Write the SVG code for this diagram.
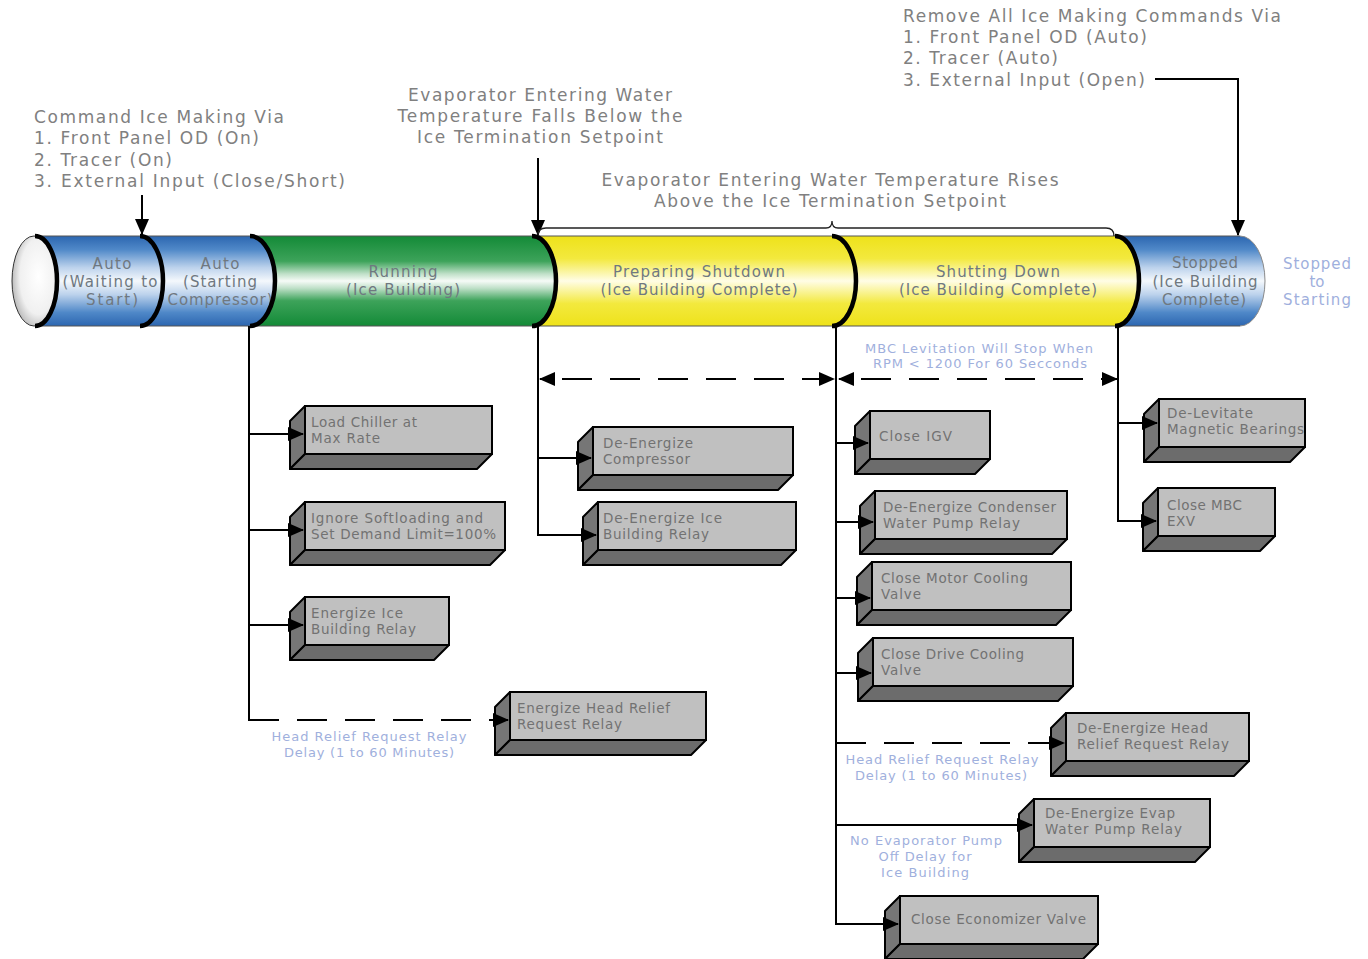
<svg xmlns="http://www.w3.org/2000/svg" width="1368" height="959" viewBox="0 0 1368 959">
<style>
text{font-family:"DejaVu Sans","Liberation Sans",sans-serif}
.t17{font-size:17px;fill:#808080}
.mid{text-anchor:middle}
.cyl{font-size:15px;fill:#6f7880;text-anchor:middle}
.bx{font-size:13.5px;fill:#727272}
.note{font-size:13px;fill:#9fb0dd;text-anchor:middle}
.ln{stroke:#000;stroke-width:2;fill:none}
.arr{marker-end:url(#ah)}
.dbl{marker-start:url(#ah);marker-end:url(#ah)}
.dash{stroke-dasharray:30 18}
.lf{fill:#767676;stroke:#000;stroke-width:2;stroke-linejoin:round}
.bt{fill:#6c6c6c;stroke:#000;stroke-width:2;stroke-linejoin:round}
.fr{fill:#c0c0c0;stroke:#000;stroke-width:2}
.seam{fill:none;stroke:#000;stroke-width:4.5}
</style>
<defs>
<marker id="ah" markerWidth="16" markerHeight="14" refX="15" refY="7" orient="auto-start-reverse" markerUnits="userSpaceOnUse">
<path d="M0,0 L16,7 L0,14 z" fill="#000"/>
</marker>
<linearGradient id="gBlue" x1="0" y1="0" x2="0" y2="1">
<stop offset="0" stop-color="#2c66b0"/><stop offset="0.15" stop-color="#4f88c8"/><stop offset="0.35" stop-color="#bcd2ec"/><stop offset="0.5" stop-color="#f4f8fc"/><stop offset="0.65" stop-color="#bcd2ec"/><stop offset="0.85" stop-color="#4f88c8"/><stop offset="1" stop-color="#2c66b0"/>
</linearGradient>
<linearGradient id="gGreen" x1="0" y1="0" x2="0" y2="1">
<stop offset="0" stop-color="#138a37"/><stop offset="0.28" stop-color="#3da35a"/><stop offset="0.42" stop-color="#bfe0c8"/><stop offset="0.5" stop-color="#f6fbf7"/><stop offset="0.58" stop-color="#bfe0c8"/><stop offset="0.72" stop-color="#3da35a"/><stop offset="1" stop-color="#138a37"/>
</linearGradient>
<linearGradient id="gYellow" x1="0" y1="0" x2="0" y2="1">
<stop offset="0" stop-color="#eee21a"/><stop offset="0.25" stop-color="#f3e93e"/><stop offset="0.5" stop-color="#fffde6"/><stop offset="0.75" stop-color="#f3e93e"/><stop offset="1" stop-color="#eee21a"/>
</linearGradient>
<radialGradient id="gCap" cx="0.6" cy="0.45" r="0.6">
<stop offset="0" stop-color="#ffffff"/><stop offset="0.7" stop-color="#f0f0f0"/><stop offset="1" stop-color="#bdbdbd"/>
</radialGradient>
</defs>
<rect width="1368" height="959" fill="#fff"/>

<!-- top labels -->
<g id="label-command">
<text class="t17" x="34" y="123" textLength="250">Command Ice Making Via</text>
<text class="t17" x="34" y="144" textLength="225">1. Front Panel OD (On)</text>
<text class="t17" x="34" y="166" textLength="138">2. Tracer (On)</text>
<text class="t17" x="34" y="187" textLength="311">3. External Input (Close/Short)</text>
</g>
<g id="label-falls">
<text class="t17 mid" x="540" y="101" textLength="264">Evaporator Entering Water</text>
<text class="t17 mid" x="540" y="122" textLength="285">Temperature Falls Below the</text>
<text class="t17 mid" x="540" y="143" textLength="246">Ice Termination Setpoint</text>
</g>
<g id="label-rises">
<text class="t17 mid" x="830" y="186" textLength="457">Evaporator Entering Water Temperature Rises</text>
<text class="t17 mid" x="830" y="207" textLength="352">Above the Ice Termination Setpoint</text>
</g>
<g id="label-remove">
<text class="t17" x="903" y="22" textLength="378">Remove All Ice Making Commands Via</text>
<text class="t17" x="903" y="43" textLength="244">1. Front Panel OD (Auto)</text>
<text class="t17" x="903" y="64" textLength="155">2. Tracer (Auto)</text>
<text class="t17" x="903" y="86" textLength="242">3. External Input (Open)</text>
</g>

<!-- cylinder -->
<g id="stopped">
<path d="M1115,236 L1240,236 A25,45 0 0 1 1240,326 L1115,326 Z" fill="url(#gBlue)"/>
<path d="M1240,236 A25,45 0 0 1 1240,326" fill="none" stroke="#8a8a8a" stroke-width="1"/>
<text class="cyl" x="1205" y="268" textLength="66">Stopped</text>
<text class="cyl" x="1205" y="287" textLength="105">(Ice Building</text>
<text class="cyl" x="1204" y="305" textLength="84">Complete)</text>
</g>
<g id="shutting-down">
<path d="M832,236 L1115,236 A24,45 0 0 1 1115,326 L832,326 Z" fill="url(#gYellow)"/>
<text class="cyl" x="998" y="277" textLength="124">Shutting Down</text>
<text class="cyl" x="998" y="295" textLength="198">(Ice Building Complete)</text>
</g>
<g id="preparing-shutdown">
<path d="M532,236 L832,236 A24,45 0 0 1 832,326 L532,326 Z" fill="url(#gYellow)"/>
<text class="cyl" x="699" y="277" textLength="172">Preparing Shutdown</text>
<text class="cyl" x="699" y="295" textLength="197">(Ice Building Complete)</text>
</g>
<g id="running">
<path d="M250,236 L532,236 A24,45 0 0 1 532,326 L250,326 Z" fill="url(#gGreen)"/>
<text class="cyl" x="403" y="277" textLength="69">Running</text>
<text class="cyl" x="403" y="295" textLength="114">(Ice Building)</text>
</g>
<g id="auto-starting">
<path d="M140,236 L250,236 A25,45 0 0 1 250,326 L140,326 Z" fill="url(#gBlue)"/>
<text class="cyl" x="220" y="269" textLength="39">Auto</text>
<text class="cyl" x="220" y="287" textLength="74">(Starting</text>
<text class="cyl" x="220" y="305" textLength="105">Compressor)</text>
</g>
<g id="auto-waiting">
<path d="M35,236 L140,236 A23,45 0 0 1 140,326 L35,326 Z" fill="url(#gBlue)"/>
<text class="cyl" x="112" y="269" textLength="39">Auto</text>
<text class="cyl" x="110" y="287" textLength="95">(Waiting to</text>
<text class="cyl" x="112" y="305" textLength="52">Start)</text>
</g>
<g id="cylinder-edges">
<line x1="35" y1="236" x2="1240" y2="236" stroke="#555" stroke-width="1"/>
<line x1="35" y1="326" x2="1240" y2="326" stroke="#555" stroke-width="1"/>
<ellipse cx="34" cy="281" rx="22" ry="45" fill="url(#gCap)" stroke="#333" stroke-width="1"/>
<path class="seam" d="M35,236 A22,45 0 0 1 35,326"/>
<path class="seam" d="M140,236 A23,45 0 0 1 140,326"/>
<path class="seam" d="M250,236 A25,45 0 0 1 250,326"/>
<path class="seam" d="M532,236 A24,45 0 0 1 532,326"/>
<path class="seam" d="M832,236 A24,45 0 0 1 832,326"/>
<path class="seam" d="M1115,236 A24,45 0 0 1 1115,326"/>
</g>
<g id="label-stopped-to-starting">
<text class="note" style="font-size:15px" x="1317" y="269" textLength="68">Stopped</text>
<text class="note" style="font-size:15px" x="1317" y="287">to</text>
<text class="note" style="font-size:15px" x="1317" y="305" textLength="68">Starting</text>
</g>

<!-- notes -->
<g id="note-mbc">
<text class="note" x="979" y="353" textLength="228">MBC Levitation Will Stop When</text>
<text class="note" x="980" y="368" textLength="214">RPM &lt; 1200 For 60 Secconds</text>
</g>
<g id="note-head-relief-1">
<text class="note" x="369" y="741" textLength="195">Head Relief Request Relay</text>
<text class="note" x="369" y="757" textLength="170">Delay (1 to 60 Minutes)</text>
</g>
<g id="note-head-relief-2">
<text class="note" x="942" y="764" textLength="193">Head Relief Request Relay</text>
<text class="note" x="941" y="780" textLength="172">Delay (1 to 60 Minutes)</text>
</g>
<g id="note-evap-pump">
<text class="note" x="926" y="845" textLength="152">No Evaporator Pump</text>
<text class="note" x="925" y="861" textLength="93">Off Delay for</text>
<text class="note" x="925" y="877" textLength="88">Ice Building</text>
</g>

<!-- boxes -->
<g id="load-chiller">
<polygon class="lf" points="290,421 305,406 305,454 290,469"/>
<polygon class="bt" points="290,469 305,454 492,454 477,469"/>
<rect class="fr" x="305" y="406" width="187" height="48"/>
<text class="bx" x="311" y="427" textLength="106">Load Chiller at</text>
<text class="bx" x="311" y="443" textLength="69">Max Rate</text>
</g>
<g id="ignore-softloading">
<polygon class="lf" points="290,517 305,502 305,550 290,565"/>
<polygon class="bt" points="290,565 305,550 505,550 490,565"/>
<rect class="fr" x="305" y="502" width="200" height="48"/>
<text class="bx" x="311" y="523" textLength="172">Ignore Softloading and</text>
<text class="bx" x="311" y="539" textLength="185">Set Demand Limit=100%</text>
</g>
<g id="energize-ice-relay">
<polygon class="lf" points="290,612 305,597 305,645 290,660"/>
<polygon class="bt" points="290,660 305,645 449,645 434,660"/>
<rect class="fr" x="305" y="597" width="144" height="48"/>
<text class="bx" x="311" y="618" textLength="92">Energize Ice</text>
<text class="bx" x="311" y="634" textLength="105">Building Relay</text>
</g>
<g id="energize-head-relief">
<polygon class="lf" points="495,707 510,692 510,740 495,755"/>
<polygon class="bt" points="495,755 510,740 706,740 691,755"/>
<rect class="fr" x="510" y="692" width="196" height="48"/>
<text class="bx" x="517" y="713" textLength="153">Energize Head Relief</text>
<text class="bx" x="517" y="729" textLength="105">Request Relay</text>
</g>
<g id="deenergize-compressor">
<polygon class="lf" points="578,442 593,427 593,475 578,490"/>
<polygon class="bt" points="578,490 593,475 793,475 778,490"/>
<rect class="fr" x="593" y="427" width="200" height="48"/>
<text class="bx" x="603" y="448" textLength="90">De-Energize</text>
<text class="bx" x="603" y="464" textLength="87">Compressor</text>
</g>
<g id="deenergize-ice-relay">
<polygon class="lf" points="583,517 598,502 598,550 583,565"/>
<polygon class="bt" points="583,565 598,550 796,550 781,565"/>
<rect class="fr" x="598" y="502" width="198" height="48"/>
<text class="bx" x="603" y="523" textLength="119">De-Energize Ice</text>
<text class="bx" x="603" y="539" textLength="106">Building Relay</text>
</g>
<g id="close-igv">
<polygon class="lf" points="855,426 870,411 870,459 855,474"/>
<polygon class="bt" points="855,474 870,459 990,459 975,474"/>
<rect class="fr" x="870" y="411" width="120" height="48"/>
<text class="bx" x="879" y="441" textLength="73">Close IGV</text>
</g>
<g id="deenergize-condenser">
<polygon class="lf" points="860,506 875,491 875,539 860,554"/>
<polygon class="bt" points="860,554 875,539 1067,539 1052,554"/>
<rect class="fr" x="875" y="491" width="192" height="48"/>
<text class="bx" x="883" y="512" textLength="173">De-Energize Condenser</text>
<text class="bx" x="883" y="528" textLength="137">Water Pump Relay</text>
</g>
<g id="close-motor-cooling">
<polygon class="lf" points="857,577 872,562 872,610 857,625"/>
<polygon class="bt" points="857,625 872,610 1071,610 1056,625"/>
<rect class="fr" x="872" y="562" width="199" height="48"/>
<text class="bx" x="881" y="583" textLength="147">Close Motor Cooling</text>
<text class="bx" x="881" y="599" textLength="40">Valve</text>
</g>
<g id="close-drive-cooling">
<polygon class="lf" points="858,653 873,638 873,686 858,701"/>
<polygon class="bt" points="858,701 873,686 1073,686 1058,701"/>
<rect class="fr" x="873" y="638" width="200" height="48"/>
<text class="bx" x="881" y="659" textLength="143">Close Drive Cooling</text>
<text class="bx" x="881" y="675" textLength="40">Valve</text>
</g>
<g id="deenergize-head-relief">
<polygon class="lf" points="1051,728 1066,713 1066,761 1051,776"/>
<polygon class="bt" points="1051,776 1066,761 1249,761 1234,776"/>
<rect class="fr" x="1066" y="713" width="183" height="48"/>
<text class="bx" x="1077" y="733" textLength="131">De-Energize Head</text>
<text class="bx" x="1077" y="749" textLength="152">Relief Request Relay</text>
</g>
<g id="deenergize-evap-pump">
<polygon class="lf" points="1019,814 1034,799 1034,847 1019,862"/>
<polygon class="bt" points="1019,862 1034,847 1210,847 1195,862"/>
<rect class="fr" x="1034" y="799" width="176" height="48"/>
<text class="bx" x="1045" y="818" textLength="130">De-Energize Evap</text>
<text class="bx" x="1045" y="834" textLength="137">Water Pump Relay</text>
</g>
<g id="close-economizer">
<polygon class="lf" points="885,911 900,896 900,944 885,959"/>
<polygon class="bt" points="885,959 900,944 1098,944 1083,959"/>
<rect class="fr" x="900" y="896" width="198" height="48"/>
<text class="bx" x="911" y="924" textLength="175">Close Economizer Valve</text>
</g>
<g id="delevitate">
<polygon class="lf" points="1144,414 1159,399 1159,447 1144,462"/>
<polygon class="bt" points="1144,462 1159,447 1305,447 1290,462"/>
<rect class="fr" x="1159" y="399" width="146" height="48"/>
<text class="bx" x="1167" y="418" textLength="86">De-Levitate</text>
<text class="bx" x="1167" y="434" textLength="137">Magnetic Bearings</text>
</g>
<g id="close-mbc-exv">
<polygon class="lf" points="1143,503 1158,488 1158,536 1143,551"/>
<polygon class="bt" points="1143,551 1158,536 1275,536 1260,551"/>
<rect class="fr" x="1158" y="488" width="117" height="48"/>
<text class="bx" x="1167" y="510" textLength="75">Close MBC</text>
<text class="bx" x="1167" y="526" textLength="28">EXV</text>
</g>

<!-- connectors -->
<g id="connectors">
<line class="ln arr" x1="142" y1="195" x2="142" y2="234"/>
<line class="ln arr" x1="538" y1="158" x2="538" y2="235"/>
<polyline class="ln arr" points="1155,79 1238,79 1238,235"/>
<path d="M538,235 C538,230 541,228 546,228 L826,228 C830,228 832,226 832,221 C832,226 834,228 838,228 L1106,228 C1111,228 1114,231 1114,236" fill="none" stroke="#222" stroke-width="1.3"/>

<line class="ln" x1="249" y1="326" x2="249" y2="721"/>
<line class="ln arr" x1="249" y1="434" x2="303" y2="434"/>
<line class="ln arr" x1="249" y1="530" x2="303" y2="530"/>
<line class="ln arr" x1="249" y1="625" x2="303" y2="625"/>
<line class="ln arr dash" x1="249" y1="720" x2="508" y2="720"/>

<line class="ln" x1="538" y1="326" x2="538" y2="536"/>
<line class="ln arr" x1="538" y1="458" x2="591" y2="458"/>
<line class="ln arr" x1="538" y1="535" x2="596" y2="535"/>

<line class="ln dbl dash" x1="540" y1="379" x2="834" y2="379" style="stroke-dashoffset:-22"/>
<line class="ln dbl dash" x1="839" y1="379" x2="1117" y2="379" style="stroke-dashoffset:-22"/>

<line class="ln" x1="836" y1="326" x2="836" y2="925"/>
<line class="ln arr" x1="836" y1="443" x2="868" y2="443"/>
<line class="ln arr" x1="836" y1="522" x2="873" y2="522"/>
<line class="ln arr" x1="836" y1="598" x2="870" y2="598"/>
<line class="ln arr" x1="836" y1="673" x2="871" y2="673"/>
<line class="ln arr dash" x1="836" y1="743" x2="1064" y2="743"/>
<line class="ln arr" x1="836" y1="825" x2="1032" y2="825"/>
<line class="ln arr" x1="836" y1="924" x2="898" y2="924"/>

<line class="ln" x1="1118" y1="326" x2="1118" y2="522"/>
<line class="ln arr" x1="1118" y1="423" x2="1157" y2="423"/>
<line class="ln arr" x1="1118" y1="521" x2="1156" y2="521"/>
</g>
</svg>
